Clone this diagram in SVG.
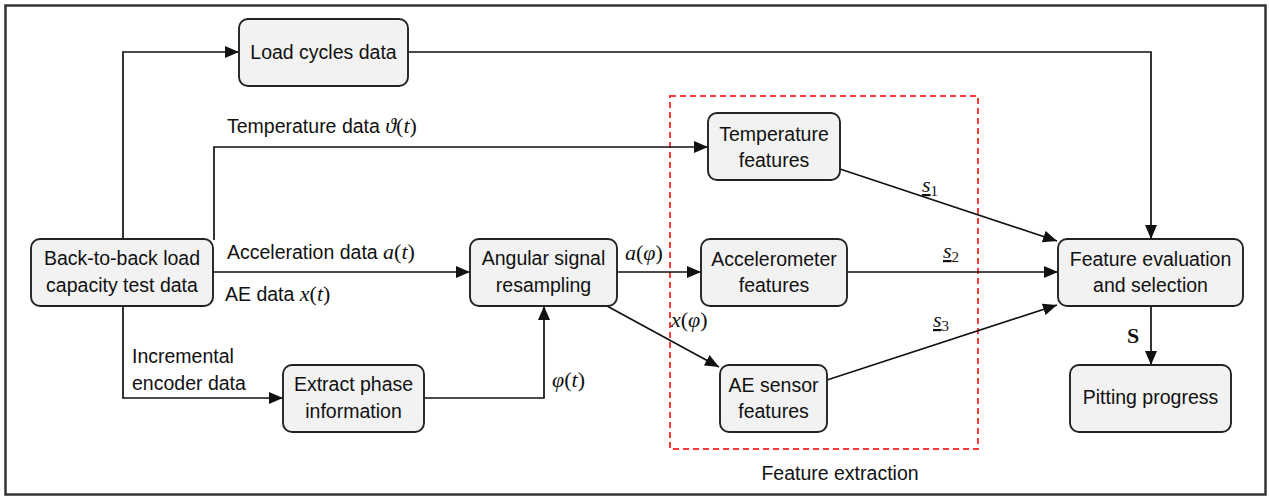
<svg xmlns="http://www.w3.org/2000/svg" width="1269" height="496" viewBox="0 0 1269 496">
<style>
.node rect{fill:#f2f2f2;stroke:#222;stroke-width:1.9}
.t{font-family:"Liberation Sans",Arial,sans-serif;font-size:19.5px;fill:#111}
.m{font-family:"Liberation Serif","Times New Roman",serif;font-style:italic;font-size:22px}
.r{font-family:"Liberation Serif","Times New Roman",serif;font-style:normal;font-size:22px}
.sub{font-family:"Liberation Serif","Times New Roman",serif;font-style:normal;font-size:15px}
.c{fill:none;stroke:#111;stroke-width:1.7}
</style>
<defs>
<marker id="ah" markerUnits="userSpaceOnUse" markerWidth="15" markerHeight="13" refX="14" refY="6.5" orient="auto">
<path d="M0,0.5 L14,6.5 L0,12.5 z" fill="#111"/>
</marker>
</defs>
<rect x="0" y="0" width="1269" height="496" fill="#fff"/>
<rect x="5.5" y="5.5" width="1260" height="489" fill="none" stroke="#333" stroke-width="2.5"/>

<rect id="feature-extraction-box" x="670" y="96" width="308" height="353" fill="none" stroke="#ff3a3a" stroke-width="2" stroke-dasharray="6,4"/>
<text class="t" x="840" y="480" text-anchor="middle">Feature extraction</text>

<g id="connectors">
<path class="c" d="M123,239 V52 H239" marker-end="url(#ah)"/>
<path class="c" d="M408,52 H1151 V239" marker-end="url(#ah)"/>
<path class="c" d="M214,240 V147 H708" marker-end="url(#ah)"/>
<path class="c" d="M213,272 H470" marker-end="url(#ah)"/>
<path class="c" d="M123,306 V398 H283" marker-end="url(#ah)"/>
<path class="c" d="M424,398 H544 V306" marker-end="url(#ah)"/>
<path class="c" d="M617,272 H701" marker-end="url(#ah)"/>
<path class="c" d="M607,306 L719,367" marker-end="url(#ah)"/>
<path class="c" d="M840,169 L1057,241" marker-end="url(#ah)"/>
<path class="c" d="M847,272 H1058" marker-end="url(#ah)"/>
<path class="c" d="M827,380 L1057,305" marker-end="url(#ah)"/>
<path class="c" d="M1151,306 V365" marker-end="url(#ah)"/>

<text class="t" x="227" y="133">Temperature data <tspan class="m">ϑ</tspan><tspan class="r">(</tspan><tspan class="m">t</tspan><tspan class="r">)</tspan></text>
<text class="t" x="227" y="259">Acceleration data <tspan class="m">a</tspan><tspan class="r">(</tspan><tspan class="m">t</tspan><tspan class="r">)</tspan></text>
<text class="t" x="225" y="301">AE data <tspan class="m">x</tspan><tspan class="r">(</tspan><tspan class="m">t</tspan><tspan class="r">)</tspan></text>
<text class="t" x="132" y="363">Incremental</text>
<text class="t" x="132" y="390">encoder data</text>
<text class="t" x="552" y="387"><tspan class="m">φ</tspan><tspan class="r">(</tspan><tspan class="m">t</tspan><tspan class="r">)</tspan></text>
<text class="t" x="625" y="260"><tspan class="m">a</tspan><tspan class="r">(</tspan><tspan class="m">φ</tspan><tspan class="r">)</tspan></text>
<text class="t" x="671" y="327"><tspan class="m">x</tspan><tspan class="r">(</tspan><tspan class="m">φ</tspan><tspan class="r">)</tspan></text>
<text class="t" x="922" y="192"><tspan class="m" text-decoration="underline">s</tspan><tspan class="sub" dy="4">1</tspan></text>
<text class="t" x="943" y="258"><tspan class="m" text-decoration="underline">s</tspan><tspan class="sub" dy="4">2</tspan></text>
<text class="t" x="933" y="327"><tspan class="m" text-decoration="underline">s</tspan><tspan class="sub" dy="4">3</tspan></text>
<text x="1127" y="343" font-family="Liberation Serif,serif" font-weight="bold" font-size="22" fill="#111">S</text>
</g>

<g id="load-cycles" class="node"><rect x="239" y="19" width="169" height="67" rx="9"/><text class="t" x="323.5" y="59" text-anchor="middle">Load cycles data</text></g>
<g id="back-to-back" class="node"><rect x="31" y="239" width="182" height="67" rx="9"/><text class="t" x="122" y="265" text-anchor="middle">Back-to-back load</text><text class="t" x="122" y="292" text-anchor="middle">capacity test data</text></g>
<g id="extract-phase" class="node"><rect x="283" y="365" width="141" height="67" rx="9"/><text class="t" x="353.5" y="391" text-anchor="middle">Extract phase</text><text class="t" x="353.5" y="418" text-anchor="middle">information</text></g>
<g id="angular-resampling" class="node"><rect x="470" y="239" width="147" height="67" rx="9"/><text class="t" x="543.5" y="265" text-anchor="middle">Angular signal</text><text class="t" x="543.5" y="292" text-anchor="middle">resampling</text></g>
<g id="temperature-features" class="node"><rect x="708" y="113" width="132" height="67" rx="9"/><text class="t" x="774" y="141" text-anchor="middle">Temperature</text><text class="t" x="774" y="167" text-anchor="middle">features</text></g>
<g id="accelerometer-features" class="node"><rect x="701" y="239" width="146" height="67" rx="9"/><text class="t" x="774" y="266" text-anchor="middle">Accelerometer</text><text class="t" x="774" y="292" text-anchor="middle">features</text></g>
<g id="ae-sensor-features" class="node"><rect x="720" y="365" width="107" height="67" rx="9"/><text class="t" x="773.5" y="392" text-anchor="middle">AE sensor</text><text class="t" x="773.5" y="418" text-anchor="middle">features</text></g>
<g id="feature-evaluation" class="node"><rect x="1058" y="239" width="185" height="67" rx="9"/><text class="t" x="1150.5" y="266" text-anchor="middle">Feature evaluation</text><text class="t" x="1150.5" y="292" text-anchor="middle">and selection</text></g>
<g id="pitting-progress" class="node"><rect x="1070" y="365" width="161" height="67" rx="9"/><text class="t" x="1150.5" y="404" text-anchor="middle">Pitting progress</text></g>
</svg>
